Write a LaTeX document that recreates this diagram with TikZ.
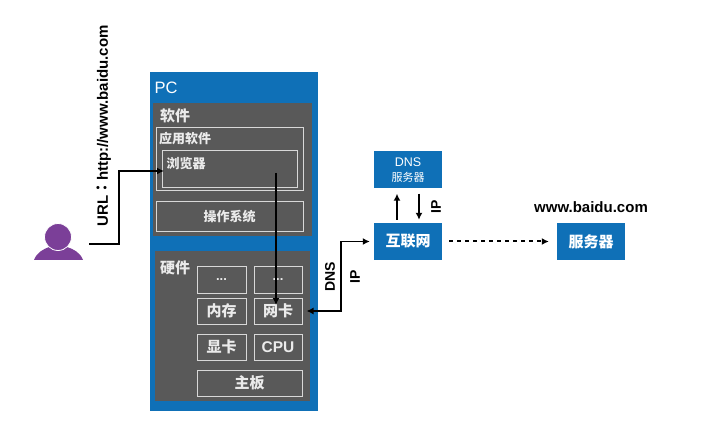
\documentclass[tikz,border=0pt]{standalone}
\usepackage{fontspec}
\usetikzlibrary{arrows.meta}
\setmainfont{Liberation Sans}
\newfontfamily\cjk{Noto Sans CJK SC}
\newfontfamily\cjkcolon{Noto Sans CJK TC}
\newcommand{\fs}[1]{\fontsize{#1}{#1}\selectfont}
\definecolor{pcblue}{HTML}{0F70B7}
\definecolor{panelgray}{HTML}{595959}
\definecolor{boxline}{HTML}{D8D8D8}
\definecolor{userpurple}{HTML}{7B3F98}
\tikzset{
  panel/.style={fill=panelgray, inner sep=0pt},
  hwbox/.style={draw=boxline, line width=1pt, inner sep=0pt, text=white!92!black, font=\cjk\bfseries\fs{15}},
  bluebox/.style={fill=pcblue, inner sep=0pt, minimum width=68pt, minimum height=37pt, text=white, font=\cjk\bfseries\fs{15}},
  tag/.style={inner sep=0pt, text=white!92!black, font=\cjk\bfseries\fs{15}},
  side/.style={inner sep=0pt, rotate=90, font=\bfseries\fs{14}},
  link/.style={->, >={Latex[length=7pt,width=7pt]}, line width=1.5pt},
}
\begin{document}
\begin{tikzpicture}[x=1pt, y=-1pt]
  \useasboundingbox (0,0) rectangle (709,446);

  % PC
  \node[fill=pcblue, inner sep=0pt, minimum width=168pt, minimum height=339pt] (pc) at (234,241.5) {};
  \node[inner sep=0pt, text=white, font=\fs{16.5}] (pclabel) at (166,88) {PC};

  % Software
  \node[panel, minimum width=159pt, minimum height=133pt] (soft) at (232.5,169.5) {};
  \node[tag] (softlabel) at (175,116) {软件};
  \node[hwbox, minimum width=147pt, minimum height=63pt] (app) at (229.5,159.5) {};
  \node[tag, font=\cjk\bfseries\fs{13}] (applabel) at (185,138.5) {应用软件};
  \node[hwbox, minimum width=135pt, minimum height=37pt] (browser) at (229.5,169.5) {};
  \node[tag, font=\cjk\bfseries\fs{13}] (browserlabel) at (186,164) {浏览器};
  \node[hwbox, minimum width=147pt, minimum height=30pt, font=\cjk\bfseries\fs{13}] (os) at (229.5,217) {操作系统};

  % Hardware
  \node[panel, minimum width=155pt, minimum height=150pt] (hard) at (232.5,326) {};
  \node[tag] (hardlabel) at (175,268) {硬件};
  \node[hwbox, minimum width=49pt, minimum height=26pt, font=\bfseries\fs{13}] (dotsa) at (221.5,280) {...};
  \node[hwbox, minimum width=48pt, minimum height=26pt, font=\bfseries\fs{13}] (dotsb) at (278,280) {...};
  \node[hwbox, minimum width=49pt, minimum height=26pt] (ram) at (221.5,311) {内存};
  \node[hwbox, minimum width=48pt, minimum height=26pt] (nic) at (278,311) {网卡};
  \node[hwbox, minimum width=49pt, minimum height=26pt] (gpu) at (221.5,347) {显卡};
  \node[hwbox, minimum width=48pt, minimum height=26pt, font=\bfseries\fs{15.5}] (cpu) at (278,347) {CPU};
  \node[hwbox, minimum width=105pt, minimum height=26pt] (board) at (249.5,383) {主板};

  % Network
  \node[bluebox, align=center, font=\fs{12.5}] (dns) at (408,170) {DNS\\[2pt]{\cjk\fs{11}服务器}};
  \node[bluebox] (internet) at (408,241.5) {互联网};
  \node[bluebox] (server) at (591,241.5) {服务器};
  \node[inner sep=0pt, font=\bfseries\fs{15}] (site) at (591,207) {www.baidu.com};

  % User
  \fill[userpurple] (34,260) .. controls (37,252) and (44,249) .. (49,247) -- (67,247) .. controls (73,249) and (80,252) .. (83,260) -- cycle;
  \fill[userpurple, draw=white, line width=0.8pt] (58,237) circle (13.5);

  % Connectors
  \coordinate (userout) at (89,244);
  \coordinate (urlbend) at (119,171);
  \coordinate (browserin) at (164,171);
  \coordinate (browserout) at (276,173);
  \coordinate (nicin) at (276,305);
  \coordinate (dnsbend) at (341,241.5);
  \draw[link] (userout) -| (urlbend) -- (browserin);
  \draw[link] (browserout) -- (nicin);
  \draw[link, <->, shorten <=4pt, shorten >=4pt] (nic.east) -| (dnsbend) -- (internet.west);
  \draw[link, shorten <=3pt, shorten >=5pt] ([xshift=-11pt]internet.north) -- ([xshift=-11pt]dns.south);
  \draw[link, shorten <=5pt, shorten >=3pt] ([xshift=11pt]dns.south) -- ([xshift=11pt]internet.north);
  \draw[link, line width=2pt, dash pattern=on 4pt off 4pt, shorten <=7pt, shorten >=8pt] (internet.east) -- (server.west);

  % Labels
  \node[side, font=\bfseries\fs{15}] (url) at (104,126) {URL{\cjkcolon ：}http://www.baidu.com};
  \node[side] (dnstag) at (330,277) {DNS};
  \node[side] (iptag) at (355,277) {IP};
  \node[side] (dnsip) at (436,207) {IP};
\end{tikzpicture}
\end{document}
